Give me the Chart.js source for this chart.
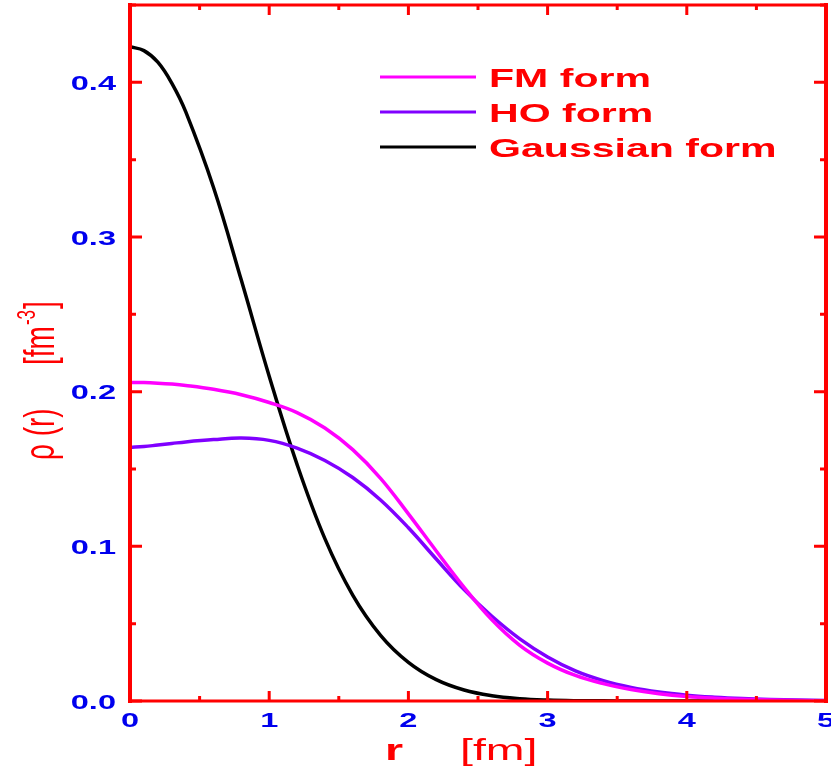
<!DOCTYPE html>
<html>
<head>
<meta charset="utf-8">
<script src="https://cdn.jsdelivr.net/npm/chart.js@4"></script>
<style>
  html, body { margin: 0; padding: 0; background: #fff; }
  canvas { display: block; }
</style>
</head>
<body>
<canvas id="chart" width="831" height="771"></canvas>
<script>
// radius r [fm]
const rValues = [0, 0.1, 0.2, 0.3, 0.4, 0.6, 0.8, 1.0, 1.2, 1.4, 1.6, 1.8, 2.0, 2.2, 2.4,
  2.6, 2.8, 3.0, 3.2, 3.4, 3.6, 3.8, 4.0, 4.2, 4.4, 4.6, 4.8, 5.0];

// density rho(r) [fm^-3]
const fmForm = [0.206, 0.2059, 0.2055, 0.2049, 0.204, 0.2015, 0.198, 0.193, 0.1865,
  0.1765, 0.1625, 0.144, 0.121, 0.097, 0.0735, 0.0525, 0.036, 0.0245, 0.0165,
  0.0112, 0.0074, 0.0047, 0.0029, 0.0018, 0.0011, 0.0006, 0.0003, 0.0002];
const hoForm = [0.164, 0.1645, 0.1655, 0.1665, 0.1675, 0.169, 0.170, 0.1685, 0.1635,
  0.1555, 0.1445, 0.130, 0.112, 0.0918, 0.072, 0.0548, 0.0402, 0.0285, 0.0195,
  0.0132, 0.0088, 0.0058, 0.0038, 0.0025, 0.0016, 0.001, 0.0006, 0.0004];
const gaussForm = [0.423, 0.4205, 0.413, 0.3995, 0.381, 0.332, 0.272, 0.210, 0.153,
  0.105, 0.0685, 0.0425, 0.025, 0.0138, 0.0071, 0.0034, 0.0015, 0.0006, 0.0002,
  0.0001, 0, 0, 0, 0, 0, 0, 0, 0];

const seriesLabels = ['FM form', 'HO form', 'Gaussian form'];
const seriesColors = ['#ff00ff', '#8000ff', '#000000'];

const xTickLabels = ['0', '1', '2', '3', '4', '5'];
const yTickLabels = ['0.0', '0.1', '0.2', '0.3', '0.4'];

const RED = '#ff0000';
const BLUE = '#0000ee';
const SX = 1.55; // the original figure is stretched sideways

function pts(ys) {
  return rValues.map((r, i) => ({ x: r, y: ys[i] }));
}

// text helper: draws with horizontal stretch
function sText(ctx, txt, x, y, font, color, align) {
  ctx.save();
  ctx.translate(x, y);
  ctx.scale(SX, 1);
  ctx.font = font;
  ctx.fillStyle = color;
  ctx.textAlign = align || 'left';
  ctx.textBaseline = 'alphabetic';
  ctx.fillText(txt, 0, 0);
  ctx.restore();
}

const framePlugin = {
  id: 'frame',
  afterDraw(chart) {
    const ctx = chart.ctx;
    const a = chart.chartArea;
    const xs = chart.scales.x;
    const ys = chart.scales.y;

    ctx.save();
    ctx.strokeStyle = RED;
    ctx.lineCap = 'square';
    // frame
    ctx.lineWidth = 4;
    ctx.beginPath();
    ctx.moveTo(a.left, a.top); ctx.lineTo(a.left, a.bottom);
    ctx.moveTo(a.right, a.top); ctx.lineTo(a.right, a.bottom);
    ctx.stroke();
    ctx.lineWidth = 3;
    ctx.beginPath();
    ctx.moveTo(a.left, a.bottom); ctx.lineTo(a.right, a.bottom);
    ctx.moveTo(a.left, a.top); ctx.lineTo(a.right, a.top);
    ctx.stroke();

    // ticks, inside, on all four sides
    ctx.lineWidth = 3;
    ctx.lineCap = 'butt';
    xs.ticks.forEach(t => {
      const px = xs.getPixelForValue(t.value);
      const major = Math.abs(t.value - Math.round(t.value)) < 1e-6;
      const len = major ? 10 : 5;
      ctx.beginPath();
      ctx.moveTo(px, a.bottom); ctx.lineTo(px, a.bottom - len);
      ctx.moveTo(px, a.top); ctx.lineTo(px, a.top + len);
      ctx.stroke();
    });
    ys.ticks.forEach(t => {
      const py = ys.getPixelForValue(t.value);
      const major = Math.round(t.value / 0.05) % 2 === 0;
      const len = major ? 12 : 6;
      ctx.beginPath();
      ctx.moveTo(a.left, py); ctx.lineTo(a.left + len, py);
      ctx.moveTo(a.right, py); ctx.lineTo(a.right - len, py);
      ctx.stroke();
    });
    ctx.restore();

    // tick labels
    const tickFont = 'bold 21px "Liberation Sans", Arial, sans-serif';
    xTickLabels.forEach(lbl => {
      const px = xs.getPixelForValue(parseFloat(lbl));
      sText(ctx, lbl, px, 727, tickFont, BLUE, 'center');
    });
    yTickLabels.forEach(lbl => {
      const py = ys.getPixelForValue(parseFloat(lbl));
      sText(ctx, lbl, 116, py + 7.5, tickFont, BLUE, 'right');
    });

    // x title
    sText(ctx, 'r', 385, 760, 'bold 30px "Liberation Sans", Arial, sans-serif', RED, 'left');
    sText(ctx, '[fm]', 460, 760, '30px "Liberation Sans", Arial, sans-serif', RED, 'left');

    // y title (rotated)
    const yFont = '28px "Liberation Sans", Arial, sans-serif';
    const supFont = '17px "Liberation Sans", Arial, sans-serif';
    ctx.save();
    ctx.fillStyle = RED;
    ctx.textBaseline = 'alphabetic';
    ctx.translate(54, 460);
    ctx.scale(SX, 1);
    ctx.rotate(-Math.PI / 2);
    ctx.font = yFont;
    ctx.fillText('\u03C1 (r)', 0, 0);
    ctx.restore();

    ctx.save();
    ctx.fillStyle = RED;
    ctx.textBaseline = 'alphabetic';
    ctx.translate(54, 365);
    ctx.scale(SX, 1);
    ctx.rotate(-Math.PI / 2);
    ctx.font = yFont;
    ctx.fillText('[fm', 0, 0);
    let w = ctx.measureText('[fm').width;
    ctx.font = supFont;
    ctx.fillText('-3', w + 1, -12);
    w += ctx.measureText('-3').width + 2;
    ctx.font = yFont;
    ctx.fillText(']', w, 0);
    ctx.restore();

    // legend
    const legFont = 'bold 26.5px "Liberation Sans", Arial, sans-serif';
    chart.data.datasets.forEach((ds, i) => {
      const ly = 77 + i * 35;
      ctx.save();
      ctx.strokeStyle = ds.borderColor;
      ctx.lineWidth = 3;
      ctx.beginPath();
      ctx.moveTo(380, ly); ctx.lineTo(476, ly);
      ctx.stroke();
      ctx.restore();
      sText(ctx, ds.label, 489, ly + 10, legFont, RED, 'left');
    });
  }
};

const ctx = document.getElementById('chart').getContext('2d');

new Chart(ctx, {
  type: 'line',
  data: {
    datasets: [
      { label: seriesLabels[0], data: pts(fmForm), borderColor: seriesColors[0] },
      { label: seriesLabels[1], data: pts(hoForm), borderColor: seriesColors[1] },
      { label: seriesLabels[2], data: pts(gaussForm), borderColor: seriesColors[2] },
    ].map(d => Object.assign(d, {
      borderWidth: 3.5,
      pointRadius: 0,
      fill: false,
      tension: 0.4,
    })),
  },
  options: {
    responsive: false,
    animation: false,
    devicePixelRatio: 1,
    layout: {
      autoPadding: false,
      padding: { left: 0, top: 5, right: 5, bottom: 0 },
    },
    plugins: {
      legend: { display: false },
      tooltip: { enabled: false },
    },
    scales: {
      x: {
        type: 'linear',
        min: 0,
        max: 5,
        ticks: { stepSize: 0.5, display: false },
        grid: { display: false },
        border: { display: false },
        afterFit(scale) { scale.height = 70; },
      },
      y: {
        min: 0,
        max: 0.45,
        ticks: { stepSize: 0.05, display: false },
        grid: { display: false },
        border: { display: false },
        afterFit(scale) { scale.width = 130; },
      },
    },
  },
  plugins: [framePlugin],
});
</script>
</body>
</html>
